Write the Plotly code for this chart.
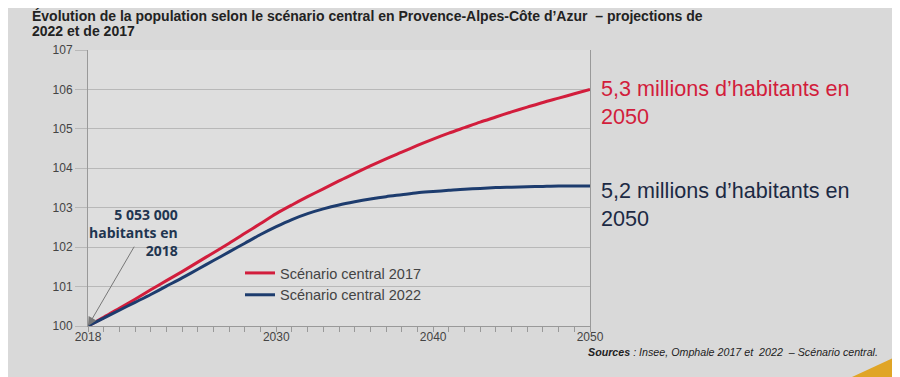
import plotly.graph_objects as go

years = list(range(2018, 2051))
scen_2017 = [100.0, 100.22, 100.45, 100.68, 100.92, 101.15, 101.38, 101.62, 101.86, 102.1,
             102.35, 102.6, 102.85, 103.07, 103.28, 103.48, 103.68, 103.87, 104.06, 104.24,
             104.41, 104.58, 104.74, 104.89, 105.03, 105.17, 105.3, 105.43, 105.55, 105.67,
             105.78, 105.89, 106.0]
scen_2022 = [100.0, 100.2, 100.4, 100.6, 100.8, 101.01, 101.22, 101.44, 101.66, 101.88,
             102.1, 102.32, 102.52, 102.7, 102.85, 102.97, 103.07, 103.15, 103.22, 103.28,
             103.33, 103.38, 103.41, 103.44, 103.47, 103.49, 103.51, 103.52, 103.53, 103.54,
             103.55, 103.55, 103.55]
x_ticks = [2018, 2030, 2040, 2050]
y_ticks = [100, 101, 102, 103, 104, 105, 106, 107]
title_lines = ["Évolution de la population selon le scénario central en Provence-Alpes-Côte d’Azur  – projections de",
               "2022 et de 2017"]

RED = "#d21d3c"
BLUE = "#1d3c6e"

# page has an 8px body margin: plot area target (88..590, 50..326) in screen px
OFF = 8
L, T, PW, PH = 88 - OFF, 50 - OFF, 502, 276


def px(xs):
    return (xs - 88) / PW


def py(ys):
    return (326 - ys) / PH


fig = go.Figure()
fig.add_trace(go.Scatter(x=years, y=scen_2017, mode="lines", name="Scénario central 2017",
                         line=dict(color=RED, width=3, shape="spline", smoothing=0.8)))
fig.add_trace(go.Scatter(x=years, y=scen_2022, mode="lines", name="Scénario central 2022",
                         line=dict(color=BLUE, width=3, shape="spline", smoothing=0.8)))

fig.update_layout(
    width=900, height=377,
    margin=dict(l=L, r=900 - L - PW, t=T, b=377 - T - PH),
    paper_bgcolor="#d9d9d9",
    plot_bgcolor="#dedede",
    font=dict(family="Liberation Sans, Arial, sans-serif", color="#333333", size=12),
    showlegend=True,
    legend=dict(x=px(240), y=py(284), xanchor="left", yanchor="middle",
                bgcolor="rgba(0,0,0,0)", font=dict(size=14.5, color="#444444"),
                tracegroupgap=0),
    xaxis=dict(range=[2018, 2050], tickvals=x_ticks, ticktext=[str(v) for v in x_ticks],
               showgrid=False, showline=True, linecolor="#999999", linewidth=1,
               ticks="", zeroline=False,
               minor=dict(dtick=1, tick0=2018, ticks="outside", ticklen=5, tickcolor="#999999"),
               tickfont=dict(size=12, color="#444444")),
    yaxis=dict(range=[100, 107], tickvals=y_ticks, showgrid=True, gridcolor="#b8b8b8",
               gridwidth=1, showline=True, linecolor="#999999", mirror=True,
               ticks="outside", ticklen=12, tickcolor="#b8b8b8", zeroline=False,
               tickfont=dict(size=12, color="#444444")),
)

for line, yc in zip(title_lines, [16, 31]):
    fig.add_annotation(xref="paper", yref="paper", x=px(30), y=py(yc), xanchor="left",
                       yanchor="middle", align="left", showarrow=False,
                       text="<b>" + line + "</b>",
                       font=dict(size=14, color="#222222", family="Liberation Sans, Arial, sans-serif"))

fig.add_annotation(x=2018, y=100, ax=2021.0, ay=102.05, axref="x", ayref="y",
                   showarrow=True, arrowhead=2, arrowsize=1.8, arrowwidth=1, arrowcolor="#777777",
                   text="")

fig.add_annotation(xref="paper", yref="paper", x=px(180), y=py(203),
                   xanchor="right", yanchor="top", align="right", showarrow=False,
                   text="<b>5 053 000<br>habitants en<br>2018</b>",
                   font=dict(size=14, color="#1f3550", family="Open Sans, sans-serif"))

fig.add_annotation(xref="paper", yref="paper", x=px(599), y=py(74),
                   xanchor="left", yanchor="top", align="left", showarrow=False,
                   text="5,3 millions d’habitants en<br>2050",
                   font=dict(size=21.6, color=RED, family="Liberation Sans, Arial, sans-serif"))
fig.add_annotation(xref="paper", yref="paper", x=px(599), y=py(176),
                   xanchor="left", yanchor="top", align="left", showarrow=False,
                   text="5,2 millions d’habitants en<br>2050",
                   font=dict(size=21.6, color="#1c2a44", family="Liberation Sans, Arial, sans-serif"))

fig.add_annotation(xref="paper", yref="paper", x=px(586), y=py(344),
                   xanchor="left", yanchor="top", align="left", showarrow=False,
                   text="<b><i>Sources</i></b><i> : Insee, Omphale 2017 et  2022  – Scénario central.</i>",
                   font=dict(size=10.7, color="#222222", family="Liberation Sans, Arial, sans-serif"))

fig.add_shape(type="path", xref="paper", yref="paper",
              path="M {} {} L {} {} L {} {} Z".format(px(852), py(377), px(910), py(377),
                                                     px(910), py(350)),
              fillcolor="#e0a526", line=dict(width=0))

fig.write_html("out.html")
